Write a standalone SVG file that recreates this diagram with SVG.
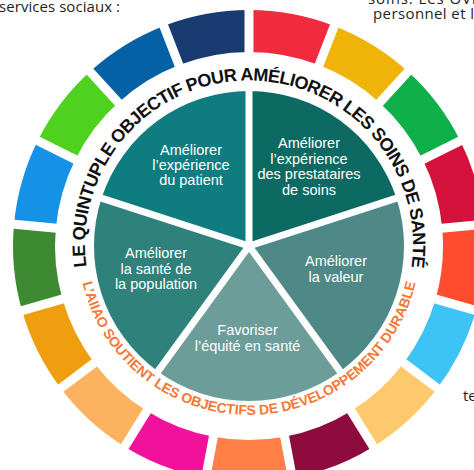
<svg xmlns="http://www.w3.org/2000/svg" width="474" height="470" viewBox="0 0 474 470">
<style>
.w{font-family:"Liberation Sans",Arial,sans-serif;font-size:14.5px;fill:#fff;text-anchor:middle}
.t{font-family:"Liberation Sans",Arial,sans-serif;font-weight:bold;font-size:18px;fill:#111;letter-spacing:-0.6px}
.b{font-family:"Liberation Sans",Arial,sans-serif;font-weight:bold;font-size:14px;fill:#F47735;letter-spacing:-0.1px}
.c{font-family:"Open Sans","Liberation Sans",sans-serif;font-size:15px;fill:#231f20}
.seg{fill:none;stroke-width:42;stroke-dasharray:79.464 1271.42}
.gap{stroke:#fff;stroke-width:9}
.spk{stroke:#fff;stroke-width:7}
</style>
<defs>
<path id="topArc" d="M124.1,350.8 A164,164 0 1 1 373.9,350.8"/>
<path id="botArc" d="M100,160 A171,171 0 1 0 398,160"/>
</defs>
<rect width="474" height="470" fill="#fff"/>
<g id="context-text">
<text class="c" x="-1" y="12" textLength="121">services sociaux :</text>
<text class="c" x="368" y="4" textLength="108">soins. Les OVI</text>
<text class="c" x="373" y="19" textLength="101">personnel et l</text>
<text class="c" x="463" y="401">te</text>
</g>
<g id="sdg-ring">
<circle class="seg" cx="249" cy="246" r="215" stroke="#EF2B3D" transform="rotate(-90 249 246)"/>
<circle class="seg" cx="249" cy="246" r="215" stroke="#F0B30A" transform="rotate(-68.824 249 246)"/>
<circle class="seg" cx="249" cy="246" r="215" stroke="#0FB04A" transform="rotate(-47.647 249 246)"/>
<circle class="seg" cx="249" cy="246" r="215" stroke="#D5123B" transform="rotate(-26.471 249 246)"/>
<circle class="seg" cx="249" cy="246" r="215" stroke="#FF4C2E" transform="rotate(-5.294 249 246)"/>
<circle class="seg" cx="249" cy="246" r="215" stroke="#3EC3F5" transform="rotate(15.882 249 246)"/>
<circle class="seg" cx="249" cy="246" r="215" stroke="#FDC96C" transform="rotate(37.059 249 246)"/>
<circle class="seg" cx="249" cy="246" r="215" stroke="#8E0B3E" transform="rotate(58.235 249 246)"/>
<circle class="seg" cx="249" cy="246" r="215" stroke="#FF7F46" transform="rotate(79.412 249 246)"/>
<circle class="seg" cx="249" cy="246" r="215" stroke="#F2119A" transform="rotate(100.588 249 246)"/>
<circle class="seg" cx="249" cy="246" r="215" stroke="#FDB25F" transform="rotate(121.765 249 246)"/>
<circle class="seg" cx="249" cy="246" r="215" stroke="#EF9E10" transform="rotate(142.941 249 246)"/>
<circle class="seg" cx="249" cy="246" r="215" stroke="#3E8A32" transform="rotate(164.118 249 246)"/>
<circle class="seg" cx="249" cy="246" r="215" stroke="#1592E6" transform="rotate(185.294 249 246)"/>
<circle class="seg" cx="249" cy="246" r="215" stroke="#4ED21F" transform="rotate(206.471 249 246)"/>
<circle class="seg" cx="249" cy="246" r="215" stroke="#0561A6" transform="rotate(227.647 249 246)"/>
<circle class="seg" cx="249" cy="246" r="215" stroke="#1A3A72" transform="rotate(248.824 249 246)"/>
<g class="gap">
<line x1="249" y1="58" x2="249" y2="0" transform="rotate(0 249 246)"/>
<line x1="249" y1="58" x2="249" y2="0" transform="rotate(21.176 249 246)"/>
<line x1="249" y1="58" x2="249" y2="0" transform="rotate(42.353 249 246)"/>
<line x1="249" y1="58" x2="249" y2="0" transform="rotate(63.529 249 246)"/>
<line x1="249" y1="58" x2="249" y2="0" transform="rotate(84.706 249 246)"/>
<line x1="249" y1="58" x2="249" y2="0" transform="rotate(105.882 249 246)"/>
<line x1="249" y1="58" x2="249" y2="0" transform="rotate(127.059 249 246)"/>
<line x1="249" y1="58" x2="249" y2="0" transform="rotate(148.235 249 246)"/>
<line x1="249" y1="58" x2="249" y2="0" transform="rotate(169.412 249 246)"/>
<line x1="249" y1="58" x2="249" y2="0" transform="rotate(190.588 249 246)"/>
<line x1="249" y1="58" x2="249" y2="0" transform="rotate(211.765 249 246)"/>
<line x1="249" y1="58" x2="249" y2="0" transform="rotate(232.941 249 246)"/>
<line x1="249" y1="58" x2="249" y2="0" transform="rotate(254.118 249 246)"/>
<line x1="249" y1="58" x2="249" y2="0" transform="rotate(275.294 249 246)"/>
<line x1="249" y1="58" x2="249" y2="0" transform="rotate(296.471 249 246)"/>
<line x1="249" y1="58" x2="249" y2="0" transform="rotate(317.647 249 246)"/>
<line x1="249" y1="58" x2="249" y2="0" transform="rotate(338.824 249 246)"/>
</g>
</g>
<g id="ring-titles">
<text class="t"><textPath href="#topArc" startOffset="50%" text-anchor="middle">LE QUINTUPLE OBJECTIF POUR AMÉLIORER LES SOINS DE SANTÉ</textPath></text>
<text class="b"><textPath href="#botArc" startOffset="50%" text-anchor="middle">L’AIIAO SOUTIENT LES OBJECTIFS DE DÉVELOPPEMENT DURABLE</textPath></text>
</g>
<g id="node-patient">
<path d="M249,246 L101.58,198.1 A155,155 0 0 1 249,91 Z" fill="#0F7D80"/>
<text class="w" x="191" y="155">Améliorer</text>
<text class="w" x="191" y="170">l’expérience</text>
<text class="w" x="191" y="185">du patient</text>
</g>
<g id="node-prestataires">
<path d="M249,246 L249,91 A155,155 0 0 1 396.42,198.1 Z" fill="#0D6A62"/>
<text class="w" x="309" y="148">Améliorer</text>
<text class="w" x="309" y="163.5">l’expérience</text>
<text class="w" x="309" y="179">des prestataires</text>
<text class="w" x="309" y="194.5">de soins</text>
</g>
<g id="node-valeur">
<path d="M249,246 L396.42,198.1 A155,155 0 0 1 340.1,371.4 Z" fill="#4E8987"/>
<text class="w" x="336" y="266">Améliorer</text>
<text class="w" x="336" y="281.5">la valeur</text>
</g>
<g id="node-equite">
<path d="M249,246 L340.1,371.4 A155,155 0 0 1 157.9,371.4 Z" fill="#6D9D98"/>
<text class="w" x="247.5" y="335">Favoriser</text>
<text class="w" x="247.5" y="350.5">l’équité en santé</text>
</g>
<g id="node-population">
<path d="M249,246 L157.9,371.4 A155,155 0 0 1 101.58,198.1 Z" fill="#2E827B"/>
<text class="w" x="156" y="258">Améliorer</text>
<text class="w" x="156" y="273.5">la santé de</text>
<text class="w" x="156" y="289">la population</text>
</g>
<g id="connectors" class="spk">
<line x1="249" y1="246" x2="249" y2="86"/>
<line x1="249" y1="246" x2="401.2" y2="196.6"/>
<line x1="249" y1="246" x2="343" y2="375.4"/>
<line x1="249" y1="246" x2="155" y2="375.4"/>
<line x1="249" y1="246" x2="96.8" y2="196.6"/>
</g>
</svg>
